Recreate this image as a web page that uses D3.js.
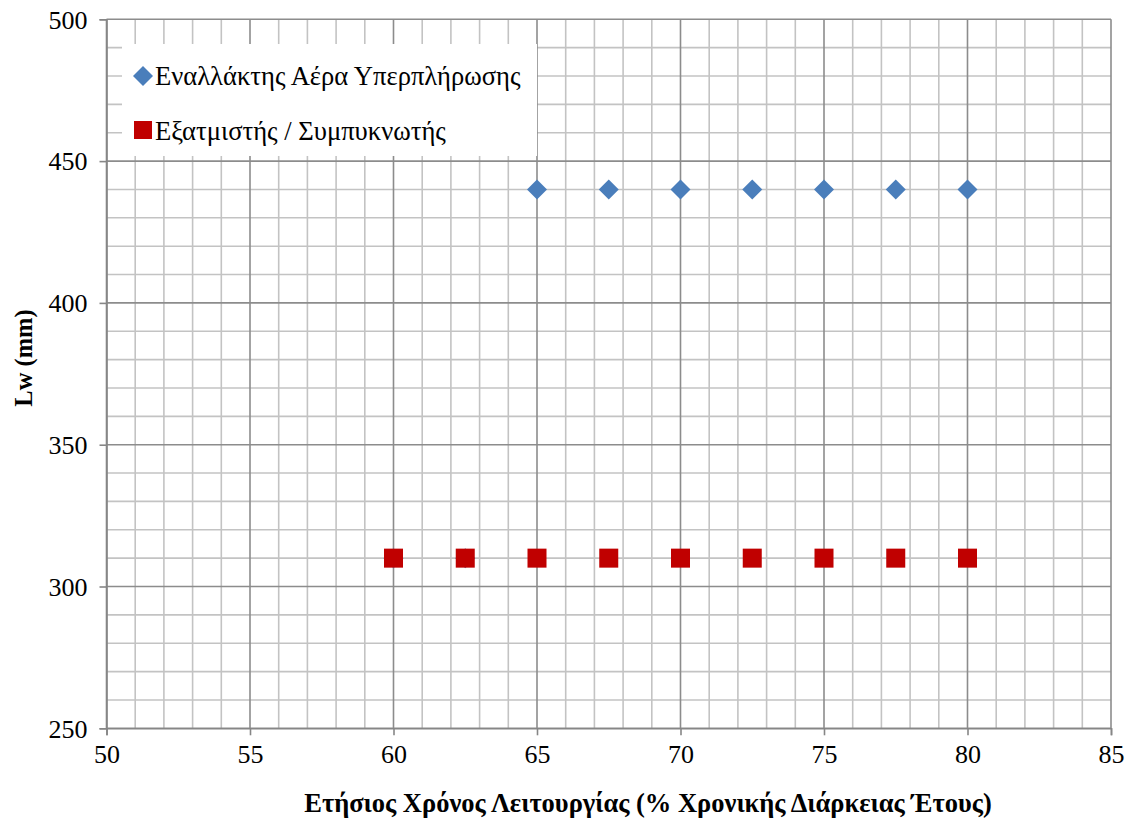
<!DOCTYPE html>
<html>
<head>
<meta charset="utf-8">
<script src="https://cdn.jsdelivr.net/npm/d3@7"></script>
<style>
  html, body { margin: 0; padding: 0; background: #ffffff; }
  svg { display: block; }
  svg text { font-family: 'Liberation Serif', 'Times New Roman', serif; fill: #000; }
</style>
</head>
<body>
<div id="chart"></div>
<script>
// Series: charge-air cooler and evaporator/condenser, Lw vs annual operating time
const charDiamondX = [60, 62.5, 65, 67.5, 70, 72.5, 75, 77.5, 80];
const charDiamondY = [310, 310, 440, 440, 440, 440, 440, 440, 440];
const evapX = [60, 62.5, 65, 67.5, 70, 72.5, 75, 77.5, 80];
const evapY = [310, 310, 310, 310, 310, 310, 310, 310, 310];

const seriesNames = ["Εναλλάκτης Αέρα Υπερπλήρωσης", "Εξατμιστής / Συμπυκνωτής"];
const xTicks = [50, 55, 60, 65, 70, 75, 80, 85];
const yTicks = [250, 300, 350, 400, 450, 500];
const xTitle = "Ετήσιος Χρόνος Λειτουργίας (% Χρονικής Διάρκειας Έτους)";
const yTitle = "Lw (mm)";

const FONT = "'Liberation Serif', 'Times New Roman', serif";
const W = 1131, H = 822;
const margin = { left: 106.5, right: 20, top: 19.3, bottom: 93.7 };
const plotW = W - margin.left - margin.right;
const plotH = H - margin.top - margin.bottom;

const x = d3.scaleLinear().domain([50, 85]).range([margin.left, margin.left + plotW]);
const y = d3.scaleLinear().domain([250, 500]).range([margin.top + plotH, margin.top]);

const svg = d3.select("#chart").append("svg")
  .attr("width", W).attr("height", H)
  .attr("font-family", FONT);

// Minor grid (every 1 on x, every 10 on y)
const minorX = d3.range(50, 85.001, 1).filter(v => v % 5 !== 0);
const minorY = d3.range(250, 500.001, 10).filter(v => v % 50 !== 0);
const grid = svg.append("g");
grid.selectAll("line.mx").data(minorX).join("line")
  .attr("x1", d => x(d)).attr("x2", d => x(d))
  .attr("y1", y(250)).attr("y2", y(500))
  .attr("stroke", "#c3c3c3").attr("stroke-width", 1.6);
grid.selectAll("line.my").data(minorY).join("line")
  .attr("x1", x(50)).attr("x2", x(85))
  .attr("y1", d => y(d)).attr("y2", d => y(d))
  .attr("stroke", "#c3c3c3").attr("stroke-width", 1.6);
// Major grid
grid.selectAll("line.Mx").data(xTicks).join("line")
  .attr("x1", d => x(d)).attr("x2", d => x(d))
  .attr("y1", y(250)).attr("y2", y(500))
  .attr("stroke", "#8c8c8c").attr("stroke-width", 1.6);
grid.selectAll("line.My").data(yTicks).join("line")
  .attr("x1", x(50)).attr("x2", x(85))
  .attr("y1", d => y(d)).attr("y2", d => y(d))
  .attr("stroke", "#8c8c8c").attr("stroke-width", 1.6);

// Axes
const xAxis = d3.axisBottom(x).tickValues(xTicks).tickSize(7).tickPadding(9).tickFormat(d3.format("d"));
const yAxis = d3.axisLeft(y).tickValues(yTicks).tickSize(7).tickPadding(12).tickFormat(d3.format("d"));

const gx = svg.append("g").attr("transform", `translate(0,${y(250)})`).call(xAxis);
const gy = svg.append("g").attr("transform", `translate(${x(50)},0)`).call(yAxis);
[gx, gy].forEach(g => {
  g.attr("font-family", FONT).attr("font-size", 26);
  g.select(".domain").attr("stroke", "#868686").attr("stroke-width", 1.6);
  g.selectAll(".tick line").attr("stroke", "#868686").attr("stroke-width", 1.6);
  g.selectAll(".tick text").style("font-family", FONT)
    .style("font-size", "26px").attr("fill", "#000");
});
gy.selectAll(".tick text").attr("dy", "0.34em");

// Axis titles
svg.append("text")
  .attr("x", 648).attr("y", 812)
  .attr("text-anchor", "middle")
  .style("font-family", FONT)
  .style("font-size", "26.5px").style("font-weight", "bold")
  .text(xTitle);
svg.append("text")
  .attr("transform", `translate(32,${358}) rotate(-90)`)
  .attr("text-anchor", "middle")
  .style("font-family", FONT)
  .style("font-size", "24.5px").style("font-weight", "bold")
  .text(yTitle);

// Legend (white box over the grid)
const legend = svg.append("g");
legend.append("rect").attr("x", 122).attr("y", 44).attr("width", 415).attr("height", 112).attr("fill", "#fff");

const diamond = d3.symbol().type(d3.symbolSquare).size(200);
const blue = "#4a7ebb", red = "#c00000";

legend.append("path").attr("d", diamond)
  .attr("transform", "translate(143,76) rotate(45)").attr("fill", blue);
legend.append("text").attr("x", 155).attr("y", 85)
  .style("font-family", FONT).style("font-size", "26.6px").text(seriesNames[0]);
legend.append("rect").attr("x", 134).attr("y", 121).attr("width", 18).attr("height", 18).attr("fill", red);
legend.append("text").attr("x", 155).attr("y", 140)
  .style("font-family", FONT).style("font-size", "26.6px").text(seriesNames[1]);

// Data markers
const pts1 = charDiamondX.map((v, i) => [v, charDiamondY[i]]);
const pts2 = evapX.map((v, i) => [v, evapY[i]]);

svg.append("g").selectAll("path").data(pts1).join("path")
  .attr("d", diamond)
  .attr("transform", d => `translate(${x(d[0])},${y(d[1])}) rotate(45)`)
  .attr("fill", blue);

const sq = 19;
svg.append("g").selectAll("rect").data(pts2).join("rect")
  .attr("x", d => x(d[0]) - sq / 2).attr("y", d => y(d[1]) - sq / 2)
  .attr("width", sq).attr("height", sq)
  .attr("fill", red);
</script>
</body>
</html>
